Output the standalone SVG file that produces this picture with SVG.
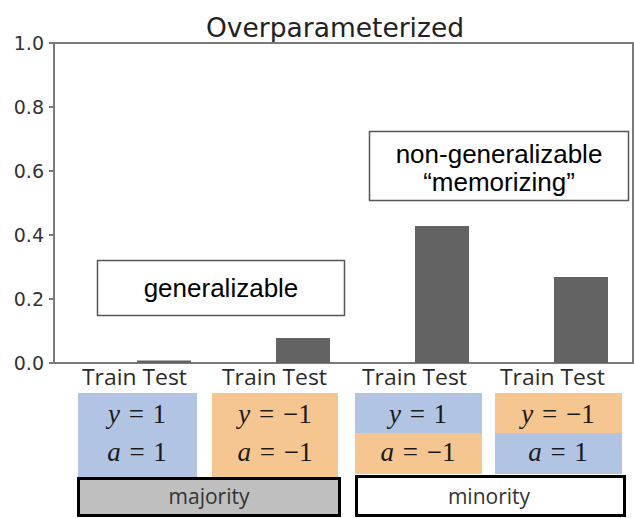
<svg xmlns="http://www.w3.org/2000/svg" width="634" height="518" viewBox="0 0 634 518">
<style>
.axis{stroke:#7a7a7a;stroke-width:2;fill:none}
.tick{font-family:"DejaVu Sans",sans-serif;font-size:19px;fill:#333;text-anchor:end}
.bar{fill:#636363}
.tt{font-family:"Open Sans",sans-serif;font-size:21px;fill:#2b2b2b}
.math{font-family:"Liberation Serif","DejaVu Serif",serif;font-size:27px;fill:#1a1a1a;text-anchor:middle;word-spacing:2px}
.blue{fill:#b1c4e3}
.orange{fill:#f5c690}
.note{fill:#fff;stroke:#555;stroke-width:1.5}
.notetxt{font-family:"Liberation Sans",Arial,sans-serif;font-size:26px;fill:#000;text-anchor:middle}
.grp{stroke:#000;stroke-width:3}
.grptxt{font-family:"Open Sans",sans-serif;font-size:21px;fill:#333;text-anchor:middle}
</style>
<rect width="634" height="518" fill="#fff"/>
<text x="335" y="37" font-family="DejaVu Sans,sans-serif" font-size="26.5" fill="#222" text-anchor="middle">Overparameterized</text>
<g id="axes">
<path class="axis" d="M54 43H633V363H54Z"/>
<path class="axis" d="M49 43H54M49 107H54M49 171H54M49 235H54M49 299H54M49 363H54"/>
<text class="tick" x="44" y="50">1.0</text>
<text class="tick" x="44" y="114">0.8</text>
<text class="tick" x="44" y="178">0.6</text>
<text class="tick" x="44" y="242">0.4</text>
<text class="tick" x="44" y="306">0.2</text>
<text class="tick" x="44" y="370">0.0</text>
</g>
<g id="bars">
<rect class="bar" x="137" y="360.5" width="54" height="2.5"/>
<rect class="bar" x="276" y="338" width="54" height="25"/>
<rect class="bar" x="415" y="226" width="54" height="137"/>
<rect class="bar" x="554" y="277" width="54" height="86"/>
</g>
<g id="xlabels">
<text class="tt" x="82" y="385" textLength="105" lengthAdjust="spacingAndGlyphs">Train Test</text>
<text class="tt" x="222" y="385" textLength="105" lengthAdjust="spacingAndGlyphs">Train Test</text>
<text class="tt" x="362" y="385" textLength="105" lengthAdjust="spacingAndGlyphs">Train Test</text>
<text class="tt" x="500" y="385" textLength="105" lengthAdjust="spacingAndGlyphs">Train Test</text>
</g>
<g id="note-generalizable">
<rect class="note" x="97.5" y="260.5" width="247" height="55"/>
<text class="notetxt" x="221" y="297">generalizable</text>
</g>
<g id="note-memorizing">
<rect class="note" x="369.5" y="131.5" width="259" height="69"/>
<text class="notetxt" x="499" y="163">non-generalizable</text>
<text class="notetxt" x="499" y="191">“memorizing”</text>
</g>
<g id="cell-1">
<rect class="blue" x="78" y="393" width="119" height="84"/>
<text class="math" x="137" y="423"><tspan font-style="italic">y</tspan> = 1</text>
<text class="math" x="137" y="461"><tspan font-style="italic">a</tspan> = 1</text>
</g>
<g id="cell-2">
<rect class="orange" x="212" y="393" width="126" height="84"/>
<text class="math" x="275" y="423"><tspan font-style="italic">y</tspan> = −1</text>
<text class="math" x="275" y="461"><tspan font-style="italic">a</tspan> = −1</text>
</g>
<g id="cell-3">
<rect class="blue" x="355" y="393" width="127" height="40"/>
<rect class="orange" x="355" y="433" width="127" height="41"/>
<text class="math" x="418" y="423"><tspan font-style="italic">y</tspan> = 1</text>
<text class="math" x="418" y="461"><tspan font-style="italic">a</tspan> = −1</text>
</g>
<g id="cell-4">
<rect class="orange" x="495" y="393" width="127" height="40"/>
<rect class="blue" x="495" y="433" width="127" height="41"/>
<text class="math" x="558" y="423"><tspan font-style="italic">y</tspan> = −1</text>
<text class="math" x="558" y="461"><tspan font-style="italic">a</tspan> = 1</text>
</g>
<g id="majority">
<rect class="grp" x="78.5" y="478.5" width="261" height="37" fill="#bfbfbf"/>
<text class="grptxt" x="209" y="504">majority</text>
</g>
<g id="minority">
<rect class="grp" x="356.5" y="476.5" width="268" height="39" fill="#fff"/>
<text class="grptxt" x="489" y="504">minority</text>
</g>
</svg>
